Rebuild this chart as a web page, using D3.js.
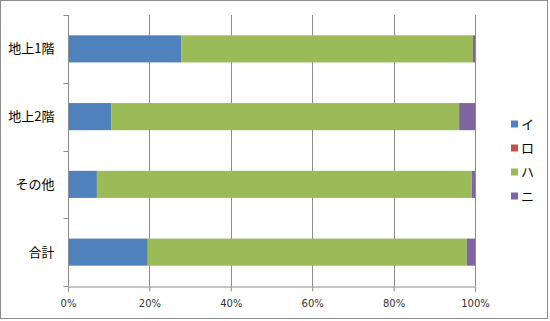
<!DOCTYPE html>
<html>
<head>
<meta charset="utf-8">
<script src="https://cdn.jsdelivr.net/npm/d3@7"></script>
<style>
  body { margin: 0; background: #fff; }
  text { font-family: "Noto Sans CJK JP", "DejaVu Sans", sans-serif; }
</style>
</head>
<body>
<script>
// categories top to bottom, values are shares (%) per series
var categories = ['地上1階', '地上2階', 'その他', '合計'];
var seriesNames = ['イ', 'ロ', 'ハ', 'ニ'];
var seriesI  = [27.8, 10.6, 7.1, 19.6];
var seriesRo = [0, 0, 0, 0];
var seriesHa = [71.7, 85.5, 92.1, 78.4];
var seriesNi = [0.5, 3.9, 0.8, 2.0];
var xTicks = [0, 20, 40, 60, 80, 100];
var colors = ['#4F81BD', '#C0504D', '#9BBB59', '#8064A2'];

var width = 550, height = 321;
var plotLeft = 68, plotRight = 475, plotTop = 15, plotBottom = 286;

var svg = d3.select('body').append('svg')
    .attr('width', width)
    .attr('height', height);

svg.append('rect')
    .attr('x', 0.5).attr('y', 0.5)
    .attr('width', 547).attr('height', 318)
    .attr('fill', '#fff')
    .attr('stroke', '#8c8c8c');

var x = d3.scaleLinear().domain([0, 100]).range([plotLeft, plotRight]);
var y = d3.scaleBand().domain(categories).range([plotTop, plotBottom])
    .paddingInner(0.6).paddingOuter(0.3);

// gridlines
svg.append('g').selectAll('line')
    .data(xTicks.slice(1))
    .join('line')
    .attr('x1', function (d) { return Math.round(x(d)) + 0.5; })
    .attr('x2', function (d) { return Math.round(x(d)) + 0.5; })
    .attr('y1', plotTop).attr('y2', plotBottom)
    .attr('stroke', '#8c8c8c');

// stacked data
var table = categories.map(function (c, i) {
    return { cat: c, 'イ': seriesI[i], 'ロ': seriesRo[i], 'ハ': seriesHa[i], 'ニ': seriesNi[i] };
});
var stacked = d3.stack().keys(seriesNames)(table);

svg.append('g').selectAll('g')
    .data(stacked)
    .join('g')
    .attr('fill', function (d, i) { return colors[i]; })
    .selectAll('rect')
    .data(function (d) { return d; })
    .join('rect')
    .attr('x', function (d) { return x(d[0]); })
    .attr('width', function (d) { return x(d[1]) - x(d[0]); })
    .attr('y', function (d) { return y(d.data.cat); })
    .attr('height', y.bandwidth());

// x axis
var xAxis = svg.append('g')
    .attr('transform', 'translate(0,' + (plotBottom + 0.5) + ')')
    .call(d3.axisBottom(x).tickValues(xTicks)
        .tickFormat(function (d) { return d + '%'; })
        .tickSize(5).tickPadding(8));
xAxis.select('.domain').attr('stroke', '#8c8c8c');
xAxis.selectAll('.tick line').attr('stroke', '#8c8c8c');
xAxis.selectAll('text')
    .attr('font-size', 10)
    .attr('fill', '#333')
    .style('font-family', '"DejaVu Sans", sans-serif');

// y axis (category boundaries as ticks)
var yAxis = svg.append('g')
    .attr('transform', 'translate(' + (plotLeft + 0.5) + ',0)');
yAxis.append('line')
    .attr('y1', plotTop).attr('y2', plotBottom)
    .attr('stroke', '#8c8c8c');
var bounds = d3.range(categories.length + 1).map(function (i) {
    return plotTop + i * (plotBottom - plotTop) / categories.length;
});
yAxis.selectAll('.bt')
    .data(bounds)
    .join('line')
    .attr('class', 'bt')
    .attr('x1', -5).attr('x2', 0)
    .attr('y1', function (d) { return Math.round(d) + 0.5; })
    .attr('y2', function (d) { return Math.round(d) + 0.5; })
    .attr('stroke', '#8c8c8c');
yAxis.selectAll('.lbl')
    .data(categories)
    .join('text')
    .attr('class', 'lbl')
    .attr('x', -14)
    .attr('y', function (d) { return y(d) + y.bandwidth() / 2; })
    .attr('dy', '0.35em')
    .attr('text-anchor', 'end')
    .attr('font-size', 13)
    .attr('fill', '#000')
    .text(function (d) { return d; });

// legend
var legend = svg.append('g').selectAll('g')
    .data(seriesNames)
    .join('g')
    .attr('transform', function (d, i) { return 'translate(511,' + (124 + i * 24) + ')'; });
legend.append('rect')
    .attr('x', 0).attr('y', -3.5)
    .attr('width', 7).attr('height', 7)
    .attr('fill', function (d, i) { return colors[i]; });
legend.append('text')
    .attr('x', 10)
    .attr('dy', '0.35em')
    .attr('font-size', 13)
    .attr('fill', '#000')
    .text(function (d) { return d; });
</script>
</body>
</html>
